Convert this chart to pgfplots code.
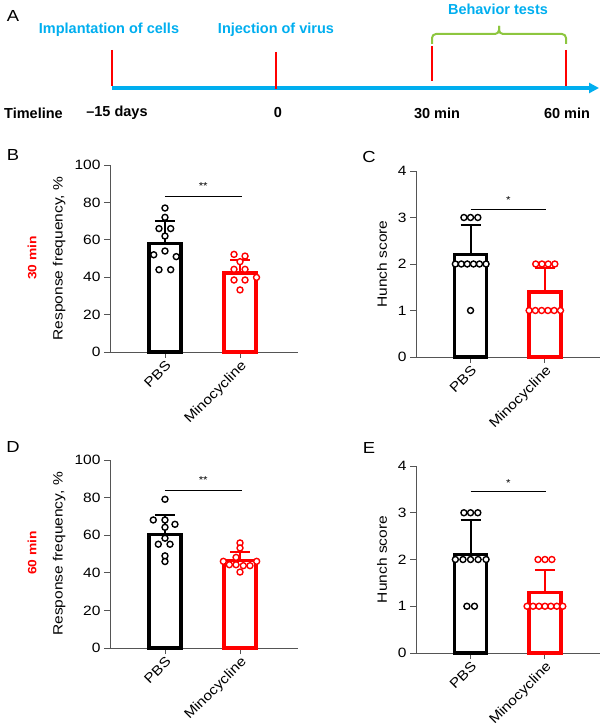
\documentclass[border=0pt]{standalone}
\usepackage{fontspec}
\setmainfont{Liberation Sans}[FakeStretch=1.15]
\newfontfamily\tlfont{Liberation Sans}
\usepackage{pgfplots}
\pgfplotsset{compat=1.18}
\usetikzlibrary{arrows.meta}
\definecolor{tcyan}{HTML}{00AEEF}
\definecolor{tgreen}{HTML}{8DC63F}
\definecolor{tred}{HTML}{FF0000}
\definecolor{axgray}{HTML}{555555}
\newcommand{\lf}{\fontsize{13.5}{15}\selectfont}
\newcommand{\tf}{\tlfont\fontsize{14.5}{16}\selectfont\bfseries}
\pgfplotsset{
  panel/.style={
    scale only axis, clip=false, anchor=south west,
    axis x line*=bottom, axis y line*=left,
    axis line style={axgray, line width=0.9pt},
    x axis line style={shorten <=-6pt},
    xtick={0,1}, xticklabels={PBS,Minocycline},
    tick align=outside, major tick length=6pt,
    tick style={axgray, line width=0.9pt},
    xticklabel style={rotate=45, anchor=north east, font=\lf, inner sep=1pt},
    yticklabel style={font=\lf},
    /pgf/number format/assume math mode=true,
    ymin=0,
  },
  barbase/.style={ybar, bar width=32pt, bar shift=0pt, fill=white, line width=3.3pt, draw=#1,
    error bars/.cd, y dir=plus, y explicit,
    error bar style={line width=2pt, #1},
    error mark options={rotate=90, line width=2pt, #1, mark size=10pt}},
  pts/.style={only marks, mark=*, mark size=3pt, mark options={draw=#1, fill=white, line width=1.4pt}},
  sig/.style={black, line width=0.9pt, mark=none},
}
\begin{document}
\begin{tikzpicture}
\useasboundingbox (0,0) rectangle (603pt,724pt);

% ---------- Timeline (A) ----------
\begin{axis}[at={(0pt,594pt)}, anchor=south west, scale only axis,
  width=603pt, height=130pt, xmin=0, xmax=603, ymin=0, ymax=130,
  y dir=reverse, axis lines=none, clip=false]
\addplot[tcyan, line width=4.3pt, -{Triangle[length=10pt,width=10pt]}] coordinates {(112,88) (599,88)};
\addplot[tred, line width=2.6pt] coordinates {(112,50) (112,86)};
\addplot[tred, line width=2.6pt] coordinates {(276,52) (276,89)};
\addplot[tred, line width=2.6pt] coordinates {(432,46) (432,81)};
\addplot[tred, line width=2.6pt] coordinates {(566,50) (566,86)};
\addplot[tgreen, line width=2pt, rounded corners=4pt] coordinates {(432,44) (432,34) (499,34) (499,26)};
\addplot[tgreen, line width=2pt, rounded corners=4pt] coordinates {(499,26) (499,34) (566,34) (566,44)};
\node[font=\fontsize{16}{18}\selectfont] at (axis cs:13,16) {A};
\node[font=\tf, text=tcyan] at (axis cs:109,30) {Implantation of cells};
\node[font=\tf, text=tcyan] at (axis cs:276,30) {Injection of virus};
\node[font=\tf, text=tcyan] at (axis cs:498,9) {Behavior tests};
\node[font=\tf, anchor=west, inner sep=0pt] at (axis cs:4,113) {Timeline};
\node[font=\tf] at (axis cs:117,113) {–15 days};
\node[font=\tf] at (axis cs:278,113) {0};
\node[font=\tf] at (axis cs:437,113) {30 min};
\node[font=\tf] at (axis cs:567,113) {60 min};
\end{axis}

% ---------- side labels ----------
\node[font=\fontsize{16}{18}\selectfont] at (13pt,569pt) {B};
\node[font=\fontsize{16}{18}\selectfont] at (369pt,567pt) {C};
\node[font=\fontsize{16}{18}\selectfont] at (13pt,277pt) {D};
\node[font=\fontsize{16}{18}\selectfont] at (369pt,276pt) {E};
\node[font=\fontsize{12}{14}\selectfont\bfseries, text=tred, rotate=90] at (32pt,466pt) {30 min};
\node[font=\fontsize{12}{14}\selectfont\bfseries, text=tred, rotate=90] at (32pt,171pt) {60 min};

% ---------- B ----------
\begin{axis}[panel, at={(110pt,372pt)}, width=188pt, height=187pt,
  xmin=-0.733, xmax=1.773, ymax=100, ytick={0,20,40,60,80,100},
  ylabel={Response frequency, \%},
  ylabel style={font=\lf, at={(axis description cs:-0.271,0.5)}, rotate=0, anchor=center}]
\addplot[barbase=black] coordinates {(0,58.2) +- (0,12.0)};
\addplot[barbase=tred] coordinates {(1,42.2) +- (0,7.0)};
\addplot[pts=black] coordinates {(0,77) (0,72) (-0.08,66) (0.076,66) (0,62) (0,54) (-0.15,52) (0.15,51) (-0.08,44) (0.076,44)};
\addplot[pts=tred] coordinates {(0.92,52.2) (1.067,51.3) (1,48.3) (0.92,44.2) (1.067,44.2) (1.22,39.9) (0.92,38.5) (1.067,38.5) (1,33.2)};
\addplot[sig] coordinates {(0,83) (1.02,83)};
\node[font=\fontsize{10}{12}\selectfont] at (axis cs:0.51,88.5) {**};
\end{axis}

% ---------- C ----------
\begin{axis}[panel, at={(416pt,367pt)}, width=184pt, height=186pt,
  xmin=-0.733, xmax=1.74, ymax=4, ytick={0,1,2,3,4},
  ylabel={Hunch score},
  ylabel style={font=\lf, at={(axis description cs:-0.185,0.5)}, rotate=0, anchor=center}]
\addplot[barbase=black] coordinates {(0,2.2) +- (0,0.63)};
\addplot[barbase=tred] coordinates {(1,1.4) +- (0,0.52)};
\addplot[pts=black] coordinates {(-0.089,3) (0,3) (0.098,3) (-0.204,2) (-0.124,2) (-0.044,2) (0.04,2) (0.12,2) (0.209,2) (0,1)};
\addplot[pts=tred] coordinates {(0.876,2) (0.96,2) (1.044,2) (1.133,2) (0.787,1) (0.871,1) (0.956,1) (1.04,1) (1.124,1) (1.209,1)};
\addplot[sig] coordinates {(0,3.18) (1.02,3.18)};
\node[font=\fontsize{10}{12}\selectfont] at (axis cs:0.51,3.37) {*};
\end{axis}

% ---------- D ----------
\begin{axis}[panel, at={(110pt,76pt)}, width=188pt, height=188pt,
  xmin=-0.733, xmax=1.773, ymax=100, ytick={0,20,40,60,80,100},
  ylabel={Response frequency, \%},
  ylabel style={font=\lf, at={(axis description cs:-0.271,0.5)}, rotate=0, anchor=center}]
\addplot[barbase=black] coordinates {(0,60.5) +- (0,10.3)};
\addplot[barbase=tred] coordinates {(1,46.5) +- (0,4.4)};
\addplot[pts=black] coordinates {(0,79.1) (-0.156,68.1) (0,68.1) (0.133,65.8) (0,64.2) (0,58.4) (-0.089,55.2) (0.067,55.2) (0,49) (0,46)};
\addplot[pts=tred] coordinates {(1,55.9) (1,53.2) (0.947,48.2) (0.778,46.1) (0.858,44.3) (0.947,44.3) (1.044,43.8) (1.133,43.8) (1.222,46.1) (1,40.4)};
\addplot[sig] coordinates {(0,84) (1.02,84)};
\node[font=\fontsize{10}{12}\selectfont] at (axis cs:0.51,89.5) {**};
\end{axis}

% ---------- E ----------
\begin{axis}[panel, at={(416pt,71pt)}, width=184pt, height=187pt,
  xmin=-0.733, xmax=1.74, ymax=4, ytick={0,1,2,3,4},
  ylabel={Hunch score},
  ylabel style={font=\lf, at={(axis description cs:-0.185,0.5)}, rotate=0, anchor=center}]
\addplot[barbase=black] coordinates {(0,2.1) +- (0,0.75)};
\addplot[barbase=tred] coordinates {(1,1.3) +- (0,0.48)};
\addplot[pts=black] coordinates {(-0.089,3) (0,3) (0.098,3) (-0.204,2) (-0.102,2) (0,2) (0.102,2) (0.209,2) (-0.049,1) (0.053,1)};
\addplot[pts=tred] coordinates {(0.907,2) (1,2) (1.093,2) (0.76,1) (0.84,1) (0.92,1) (1,1) (1.08,1) (1.16,1) (1.24,1)};
\addplot[sig] coordinates {(0,3.45) (1.02,3.45)};
\node[font=\fontsize{10}{12}\selectfont] at (axis cs:0.51,3.64) {*};
\end{axis}
\end{tikzpicture}
\end{document}
